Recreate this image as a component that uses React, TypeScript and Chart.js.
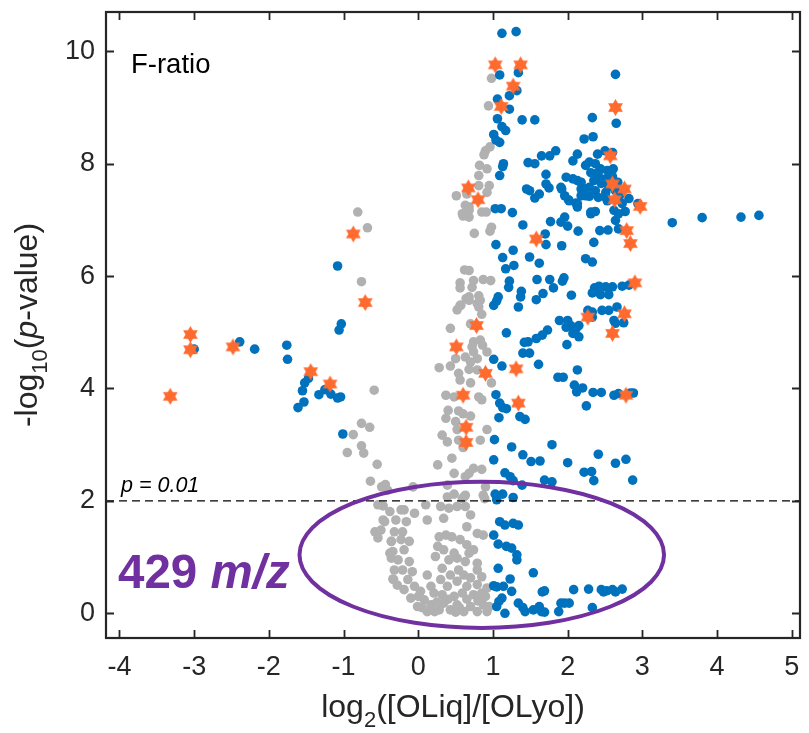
import React, { useEffect, useRef } from 'react';
import { Chart, registerables } from 'chart.js';

Chart.register(...registerables);

// ---- axes ----
const xTicks = [-4, -3, -2, -1, 0, 1, 2, 3, 4, 5];
const yTicks = [0, 2, 4, 6, 8, 10];
const xMin = -4.18;
const xMax = 5.11;
const yMin = -0.44;
const yMax = 10.7;
const pThreshold = 2; // -log10(0.01)

// ellipse annotation in data units
const ellipseCenter = [0.85, 1.04];
const ellipseRadii = [2.44, 1.3];

// ---- data ----
const starPoints: [number, number][] = [
  [-3.32, 3.86], [-3.05, 4.96], [-3.05, 4.69], [-2.48, 4.74], [-1.44, 4.3], [-1.18, 4.08], [-0.87, 6.75], [-0.71, 5.53],
  [1.03, 9.76], [1.37, 9.76], [1.27, 9.38], [1.11, 9.02], [0.67, 7.57], [0.8, 7.36], [1.58, 6.66], [2.27, 5.27], [0.78, 5.12],
  [2.64, 9.0], [2.57, 8.14], [2.6, 7.64], [2.76, 7.55], [2.63, 7.36], [2.97, 7.24], [2.79, 6.81], [2.84, 6.58], [2.9, 5.88],
  [2.76, 5.33], [2.6, 4.98], [0.51, 4.74], [0.9, 4.27], [0.6, 3.88], [0.64, 3.31], [0.64, 3.04], [1.31, 4.35], [1.34, 3.74],
  [2.78, 3.88],
];

const bluePoints: [number, number][] = [
  // left wing
  [-3.0, 4.7], [-2.39, 4.83], [-2.19, 4.7], [-1.76, 4.77], [-1.75, 4.52], [-1.52, 4.1], [-1.47, 4.18], [-1.55, 3.96],
  [-1.53, 3.76], [-1.61, 3.66], [-1.33, 3.89], [-1.25, 3.98], [-1.17, 3.9], [-1.08, 3.83], [-1.04, 3.85], [-1.01, 3.19],
  [-1.08, 6.18], [-1.03, 5.15], [-1.06, 5.04],
  // central upper
  [1.12, 10.32], [1.31, 10.35], [1.09, 9.58], [1.34, 9.62], [1.32, 9.3], [1.22, 9.21], [1.06, 9.15], [1.22, 8.97],
  [1.06, 8.8], [1.39, 8.78], [1.56, 8.78], [1.12, 8.66], [1.17, 8.59], [1.01, 8.52], [1.04, 8.42], [1.09, 8.38],
  [1.14, 8.0], [1.13, 7.95], [1.09, 7.79], [1.47, 8.02], [1.56, 8.0], [1.65, 8.14], [1.76, 8.14], [1.84, 8.23],
  [1.71, 7.81], [1.71, 7.64], [1.75, 7.57], [1.45, 7.55], [1.49, 7.52], [1.62, 7.46], [1.56, 7.39], [1.03, 7.2],
  [1.11, 7.2], [1.26, 7.13], [1.4, 6.91], [1.77, 6.97], [1.91, 6.96], [1.96, 7.05], [2.0, 6.89], [1.7, 6.75],
  [1.71, 6.56], [1.04, 6.56], [1.13, 6.33], [1.27, 6.46], [1.17, 6.13], [1.28, 6.19], [1.49, 6.34], [1.62, 6.23],
  [1.22, 5.91], [1.21, 5.8], [1.59, 5.94], [1.76, 5.94], [1.81, 5.79], [1.95, 5.97], [1.93, 5.91], [1.38, 5.73],
  [1.37, 5.63], [1.34, 5.45], [1.07, 5.63], [1.05, 5.56], [1.01, 5.48], [1.58, 5.58], [1.67, 5.69], [2.05, 5.66],
  [1.89, 5.21], [2.0, 5.21], [2.15, 5.12], [2.33, 5.27], [1.98, 5.09], [1.18, 4.99], [2.14, 6.8], [1.92, 6.54],
  [2.43, 6.81], [2.54, 6.82],
  // right cluster
  [2.33, 8.82], [2.22, 8.44], [2.34, 8.48], [2.13, 8.17], [2.07, 8.05], [1.98, 7.76], [2.07, 7.73], [2.18, 7.67],
  [2.29, 7.58], [1.91, 7.58], [1.96, 7.43], [2.02, 7.34], [2.11, 7.3], [2.13, 7.23], [2.24, 7.43], [2.31, 7.14],
  [2.35, 6.6], [2.24, 6.31], [2.33, 6.25], [2.64, 9.59], [2.65, 8.72], [2.4, 8.17], [2.5, 8.23], [2.6, 8.2],
  [2.29, 8.03], [2.24, 7.97], [2.37, 8.0], [2.44, 7.91], [2.53, 7.88], [2.61, 7.91], [2.31, 7.84], [2.41, 7.78],
  [2.51, 7.73], [2.6, 7.77], [2.35, 7.7], [2.45, 7.65], [2.55, 7.59], [2.37, 7.52], [2.51, 7.49], [2.64, 7.52],
  [2.29, 7.42], [2.41, 7.4], [2.53, 7.34], [2.18, 7.43], [2.22, 7.56], [2.67, 7.67], [2.69, 7.42], [2.41, 7.85],
  [2.13, 7.7], [2.18, 7.55], [1.92, 7.55], [2.01, 7.36], [2.13, 7.29], [2.51, 7.4], [2.68, 7.4], [2.73, 7.29],
  [2.82, 7.38], [2.62, 7.17], [2.68, 7.11], [2.77, 7.15], [2.64, 6.99], [2.68, 6.84], [2.31, 7.11], [2.37, 7.15],
  [2.94, 7.29], [3.4, 6.95], [3.8, 7.04], [4.32, 7.05], [4.56, 7.08],
  // right middle rows
  [2.36, 5.79], [2.42, 5.82], [2.51, 5.81], [2.6, 5.81], [2.73, 5.82], [2.82, 5.84], [2.33, 5.7], [2.44, 5.67],
  [2.55, 5.67], [2.27, 5.39], [2.33, 5.36], [2.46, 5.39], [2.55, 5.39], [2.66, 5.45], [2.62, 5.21], [2.75, 5.17],
  [2.64, 5.16], [2.04, 5.12], [2.11, 5.06], [2.15, 4.92], [1.99, 4.78], [1.73, 5.04], [1.66, 4.95], [1.58, 4.89],
  [1.47, 4.83], [1.42, 4.82], [2.07, 4.98],
  // lower middle
  [1.4, 4.63], [1.49, 4.63], [1.61, 4.43], [2.13, 4.33], [1.87, 4.2], [1.94, 4.2], [2.09, 4.06], [2.2, 4.01],
  [2.12, 3.94], [2.34, 3.93], [2.45, 3.93], [2.25, 3.69], [2.62, 3.88], [2.68, 3.91], [2.84, 3.92], [2.88, 3.92],
  [1.36, 3.5], [1.43, 3.45], [1.79, 3.0], [1.4, 2.82], [1.51, 2.7], [1.63, 2.71], [2.0, 2.68], [2.41, 2.83],
  [2.64, 2.67], [2.78, 2.74], [2.22, 2.51], [2.32, 2.52], [2.35, 2.36], [2.87, 2.37], [1.69, 2.37], [1.79, 2.34],
  [1.01, 4.52], [1.12, 4.4], [1.04, 3.89], [1.09, 3.74], [1.13, 3.66], [1.18, 3.64], [1.08, 3.48], [1.02, 3.09],
  [1.25, 2.96], [1.01, 2.73], [1.16, 2.5], [1.23, 2.43], [1.39, 2.28], [1.27, 2.36],
  // below threshold
  [1.03, 2.12], [1.13, 2.12], [1.05, 2.02], [1.27, 2.06], [1.09, 1.63], [1.16, 1.57], [1.27, 1.6], [1.34, 1.57],
  [1.01, 1.39], [1.07, 1.23], [1.18, 1.19], [1.25, 1.16], [1.32, 1.04], [1.32, 0.95], [1.07, 0.8], [1.54, 0.72],
  [1.23, 0.61], [1.01, 0.49], [1.05, 0.47], [1.14, 0.48], [1.25, 0.39], [1.12, 0.27], [1.05, 0.12], [1.16, 0.0],
  [1.08, 0.21], [1.34, 0.18], [1.43, 0.03], [1.54, 0.06], [1.62, 0.12], [1.65, 0.03], [1.69, 0.4], [1.66, 0.38],
  [1.88, 0.03], [1.91, 0.18], [1.96, 0.18], [2.02, 0.18], [2.08, 0.42], [2.28, 0.43], [2.33, 0.1], [2.45, 0.42],
  [2.48, 0.38], [2.6, 0.42], [2.64, 0.38], [2.73, 0.43], [2.52, 0.4], [1.69, 0.02], [1.4, 0.1],
];

const grayPoints: [number, number][] = [
  // left
  [-0.81, 7.14], [-0.68, 6.86], [-0.76, 5.9], [-0.59, 3.97], [-0.76, 3.38], [-0.65, 3.31], [-0.87, 3.18], [-0.76, 2.98],
  [-0.73, 2.85], [-0.95, 2.86], [-0.55, 2.65], [-0.64, 2.35], [-0.44, 2.29], [-0.47, 1.91], [-0.45, 1.63], [-0.58, 1.45],
  [-0.54, 1.34], [-0.36, 1.28], [-0.38, 1.07], [-0.36, 0.98], [-0.32, 0.77], [-0.33, 0.6], [-0.41, 2.19],
  // central column upper
  [0.51, 7.43], [0.63, 7.26], [0.6, 7.07], [0.62, 6.11], [0.56, 5.88], [0.56, 5.79], [0.64, 5.6], [0.56, 5.48],
  [0.52, 5.4], [0.43, 5.07], [0.98, 9.52], [0.94, 9.03], [0.96, 8.3], [0.9, 8.23], [0.88, 8.16], [0.82, 7.97],
  [0.92, 7.91], [0.81, 7.79], [0.81, 7.61], [0.95, 7.61], [0.92, 7.49], [0.68, 7.23], [0.85, 7.14], [0.91, 7.14],
  [0.68, 7.05], [0.98, 6.87], [0.96, 6.8], [0.75, 6.76], [0.68, 6.1], [0.74, 5.92], [0.87, 5.94], [0.97, 5.92],
  [0.72, 5.8], [0.68, 5.63], [0.83, 5.57], [0.81, 5.45], [0.85, 5.32], [0.7, 5.15], [0.65, 7.46], [0.68, 7.17],
  [0.59, 7.11], [0.57, 5.48], [0.68, 5.57], [0.79, 5.51], [0.81, 5.65], [0.74, 4.83], [0.83, 4.86], [0.72, 4.74],
  // middle
  [0.28, 4.37], [0.43, 4.4], [0.5, 4.53], [0.63, 4.56], [0.74, 4.65], [0.79, 4.53], [0.7, 4.47], [0.92, 4.65],
  [0.86, 4.77], [0.54, 4.27], [0.68, 4.34], [0.79, 4.33], [0.56, 4.15], [0.7, 4.1], [0.98, 4.1], [0.37, 3.88],
  [0.48, 3.85], [0.81, 3.85], [0.85, 3.8], [0.4, 3.61], [0.54, 3.6], [0.6, 3.55], [0.7, 3.51], [0.37, 3.47],
  [0.5, 3.41], [0.52, 3.27], [0.92, 3.27], [0.32, 3.17], [0.39, 3.05], [0.54, 3.08], [0.83, 3.08], [0.6, 2.95],
  [0.45, 2.76], [0.26, 2.64], [0.48, 2.49], [0.68, 2.49], [0.74, 2.58], [0.85, 2.56], [0.63, 2.43], [0.48, 2.12],
  [0.63, 2.1], [0.87, 2.1], [0.39, 2.28], [0.9, 2.25], [0.61, 2.07], [0.52, 1.9], [0.41, 1.87], [0.63, 1.9],
  [0.3, 1.9], [0.1, 1.93], [0.12, 1.66], [0.34, 1.69], [0.65, 1.54], [0.79, 1.42], [0.87, 1.39], [0.7, 1.75],
  [-0.05, 1.78], [-0.07, 2.25], [-0.49, 2.25], [0.39, 2.07], [0.59, 2.04], [0.89, 2.04], [-0.23, 1.84],
  // bottom left arm
  [-0.54, 1.93], [-0.38, 1.81], [-0.19, 1.84], [-0.47, 1.66], [-0.3, 1.66], [-0.16, 1.63], [-0.5, 1.48], [-0.32, 1.45],
  [-0.21, 1.45], [-0.36, 1.28], [-0.23, 1.31], [-0.12, 1.28], [-0.34, 1.1], [-0.19, 1.13], [-0.27, 0.95], [-0.12, 0.92],
  [-0.21, 0.77], [-0.08, 0.74], [-0.34, 0.61], [-0.14, 0.6], [-0.05, 0.48], [-0.19, 0.42], [0.03, 0.39], [-0.1, 0.27],
  [0.08, 0.24], [-0.01, 0.12], [0.17, 0.15], [0.12, 0.03], [0.28, 0.06], [0.34, 0.18], [0.43, 0.06], [0.52, 0.15],
  [0.61, 0.03], [0.7, 0.12], [0.79, 0.03], [0.87, 0.15], [0.92, 0.03], [0.21, 0.36], [0.32, 0.33], [0.48, 0.3],
  [0.59, 0.36], [0.74, 0.33], [0.85, 0.36], [0.17, 0.48], [0.39, 0.48], [0.65, 0.48], [0.79, 0.51], [0.92, 0.45],
  [0.3, 0.6], [0.52, 0.57], [0.7, 0.63], [0.12, 0.68], [0.0, 0.3], [0.05, 0.1], [0.25, 0.2], [0.4, 0.25],
  [0.55, 0.1], [0.65, 0.25], [0.8, 0.22], [0.9, 0.3], [-0.28, 0.5], [0.22, 0.03], [0.5, 0.02], [0.95, 0.12],
  // ring
  [0.28, 1.36], [0.37, 1.39], [0.45, 1.36], [0.56, 1.31], [0.65, 1.22], [0.26, 1.19], [0.34, 1.13], [0.23, 1.01],
  [0.41, 0.95], [0.52, 0.98], [0.63, 0.92], [0.54, 0.77], [0.32, 0.8], [0.43, 0.68], [0.68, 1.07], [0.74, 1.13],
  [0.79, 0.77], [0.61, 0.68], [0.79, 0.89], [0.85, 0.65], [0.48, 1.07],
];

const BLUE = '#0072BD';
const GRAY = '#B1B1B1';
const ORANGE = '#FF6A2E';
const PURPLE = '#7030A0';
const AXIS = '#262626';
const FONT = '"Liberation Sans", Arial, Helvetica, sans-serif';

function makeHexagram(r: number, color: string): HTMLCanvasElement {
  const s = Math.ceil(r * 2 + 2);
  const c = document.createElement('canvas');
  c.width = s;
  c.height = s;
  const ctx = c.getContext('2d')!;
  ctx.fillStyle = color;
  const cx = s / 2;
  const cy = s / 2;
  for (const rot of [-Math.PI / 2, Math.PI / 2]) {
    ctx.beginPath();
    for (let k = 0; k < 3; k++) {
      const a = rot + (k * 2 * Math.PI) / 3;
      const px = cx + r * Math.cos(a);
      const py = cy + r * Math.sin(a);
      if (k === 0) ctx.moveTo(px, py);
      else ctx.lineTo(px, py);
    }
    ctx.closePath();
    ctx.fill();
  }
  return c;
}

function drawRun(ctx: CanvasRenderingContext2D, parts: { t: string; font: string; dy?: number }[], x: number, y: number, align: 'center' | 'left') {
  let total = 0;
  const widths = parts.map((p) => {
    ctx.font = p.font;
    const w = ctx.measureText(p.t).width;
    total += w;
    return w;
  });
  let cx = align === 'center' ? x - total / 2 : x;
  parts.forEach((p, i) => {
    ctx.font = p.font;
    ctx.fillText(p.t, cx, y + (p.dy || 0));
    cx += widths[i];
  });
}

const decorPlugin = {
  id: 'decor',
  afterDatasetsDraw(chart: any) {
    const ctx: CanvasRenderingContext2D = chart.ctx;
    const xs = chart.scales.x;
    const ys = chart.scales.y;
    const area = chart.chartArea;
    ctx.save();
    // threshold line
    const yp = ys.getPixelForValue(pThreshold);
    ctx.strokeStyle = '#000';
    ctx.lineWidth = 1.3;
    ctx.setLineDash([8, 5]);
    ctx.beginPath();
    ctx.moveTo(area.left, yp);
    ctx.lineTo(area.right, yp);
    ctx.stroke();
    ctx.setLineDash([]);
    // threshold label
    ctx.fillStyle = '#000';
    ctx.textBaseline = 'alphabetic';
    ctx.textAlign = 'left';
    ctx.font = `italic 21.5px ${FONT}`;
    ctx.fillText('p = 0.01', area.left + 15, yp - 9);
    // ellipse
    const ecx = xs.getPixelForValue(ellipseCenter[0]);
    const ecy = ys.getPixelForValue(ellipseCenter[1]);
    const erx = Math.abs(xs.getPixelForValue(ellipseCenter[0] + ellipseRadii[0]) - ecx);
    const ery = Math.abs(ys.getPixelForValue(ellipseCenter[1] + ellipseRadii[1]) - ecy);
    ctx.strokeStyle = PURPLE;
    ctx.lineWidth = 4;
    ctx.beginPath();
    ctx.ellipse(ecx, ecy, erx, ery, 0, 0, Math.PI * 2);
    ctx.stroke();
    // 429 m/z
    ctx.fillStyle = PURPLE;
    drawRun(ctx, [
      { t: '429 ', font: `bold 47.5px ${FONT}` },
      { t: 'm/z', font: `italic bold 47.5px ${FONT}` },
    ], area.left + 12, ys.getPixelForValue(0.45), 'left');
    // F-ratio
    ctx.fillStyle = '#000';
    ctx.font = `27.5px ${FONT}`;
    ctx.fillText('F-ratio', area.left + 25, area.top + 61);
    ctx.restore();
  },
  afterDraw(chart: any) {
    const ctx: CanvasRenderingContext2D = chart.ctx;
    const xs = chart.scales.x;
    const ys = chart.scales.y;
    const a = chart.chartArea;
    ctx.save();
    ctx.strokeStyle = AXIS;
    ctx.lineWidth = 1.8;
    const tl = 8;
    ctx.beginPath();
    for (const v of xTicks) {
      const px = Math.round(xs.getPixelForValue(v)) + 0.5;
      ctx.moveTo(px, a.bottom);
      ctx.lineTo(px, a.bottom - tl);
      ctx.moveTo(px, a.top);
      ctx.lineTo(px, a.top + tl);
    }
    for (const v of yTicks) {
      const py = Math.round(ys.getPixelForValue(v)) + 0.5;
      ctx.moveTo(a.left, py);
      ctx.lineTo(a.left + tl, py);
      ctx.moveTo(a.right, py);
      ctx.lineTo(a.right - tl, py);
    }
    ctx.stroke();
    ctx.lineWidth = 2.2;
    ctx.strokeRect(a.left, a.top, a.right - a.left, a.bottom - a.top);

    // axis titles
    ctx.fillStyle = AXIS;
    ctx.textBaseline = 'alphabetic';
    ctx.textAlign = 'left';
    const cxm = (a.left + a.right) / 2;
    drawRun(ctx, [
      { t: 'log', font: `32px ${FONT}` },
      { t: '2', font: `22px ${FONT}`, dy: 10 },
      { t: '([OLiq]/[OLyo])', font: `32px ${FONT}` },
    ], cxm, a.bottom + 79, 'center');

    ctx.translate(a.left - 69, (a.top + a.bottom) / 2);
    ctx.rotate(-Math.PI / 2);
    drawRun(ctx, [
      { t: '-log', font: `32px ${FONT}` },
      { t: '10', font: `22px ${FONT}`, dy: 10 },
      { t: '(', font: `32px ${FONT}` },
      { t: 'p', font: `italic 32px ${FONT}` },
      { t: '-value)', font: `32px ${FONT}` },
    ], 0, 0, 'center');
    ctx.restore();
  },
};

export default function App() {
  const ref = useRef<HTMLCanvasElement | null>(null);
  useEffect(() => {
    document.body.style.margin = '0';
    document.body.style.overflow = 'hidden';
    const canvas = ref.current!;
    const star = makeHexagram(8.5, ORANGE);
    const toXY = (arr: [number, number][]) => arr.map(([x, y]) => ({ x, y }));
    const tickFont = { family: FONT, size: 27 };
    const chart = new Chart(canvas, {
      type: 'scatter',
      data: {
        datasets: [
          {
            label: 'sig',
            data: toXY(starPoints),
            pointStyle: star as any,
            pointRadius: 8,
            order: 0,
          },
          {
            label: 'up',
            data: toXY(bluePoints),
            backgroundColor: BLUE,
            borderColor: BLUE,
            borderWidth: 0,
            pointRadius: 4.8,
            order: 1,
          },
          {
            label: 'ns',
            data: toXY(grayPoints),
            backgroundColor: GRAY,
            borderColor: GRAY,
            borderWidth: 0,
            pointRadius: 4.8,
            order: 2,
          },
        ],
      },
      options: {
        responsive: false,
        animation: false,
        devicePixelRatio: 1,
        layout: { padding: { top: 12, right: 2, left: 0, bottom: 0 } },
        plugins: { legend: { display: false }, tooltip: { enabled: false } },
        events: [],
        scales: {
          x: {
            type: 'linear',
            position: 'bottom',
            min: xMin,
            max: xMax,
            afterBuildTicks: (s: any) => {
              s.ticks = xTicks.map((v) => ({ value: v }));
            },
            afterFit: (s: any) => {
              s.height = 95;
              s.paddingLeft = 0;
              s.paddingRight = 0;
            },
            grid: { display: false, drawTicks: false },
            border: { display: false },
            ticks: { font: tickFont, color: AXIS, padding: 13, autoSkip: false, maxRotation: 0, callback: (v: any) => String(v) },
          },
          y: {
            type: 'linear',
            position: 'left',
            min: yMin,
            max: yMax,
            afterBuildTicks: (s: any) => {
              s.ticks = yTicks.map((v) => ({ value: v }));
            },
            afterFit: (s: any) => {
              s.width = 106;
              s.paddingTop = 0;
              s.paddingBottom = 0;
            },
            grid: { display: false, drawTicks: false },
            border: { display: false },
            ticks: { font: tickFont, color: AXIS, padding: 11, autoSkip: false, callback: (v: any) => String(v) },
          },
        },
      },
      plugins: [decorPlugin],
    } as any);
    return () => chart.destroy();
  }, []);
  return <canvas ref={ref} width={809} height={733} style={{ display: 'block', width: 809, height: 733 }} />;
}
